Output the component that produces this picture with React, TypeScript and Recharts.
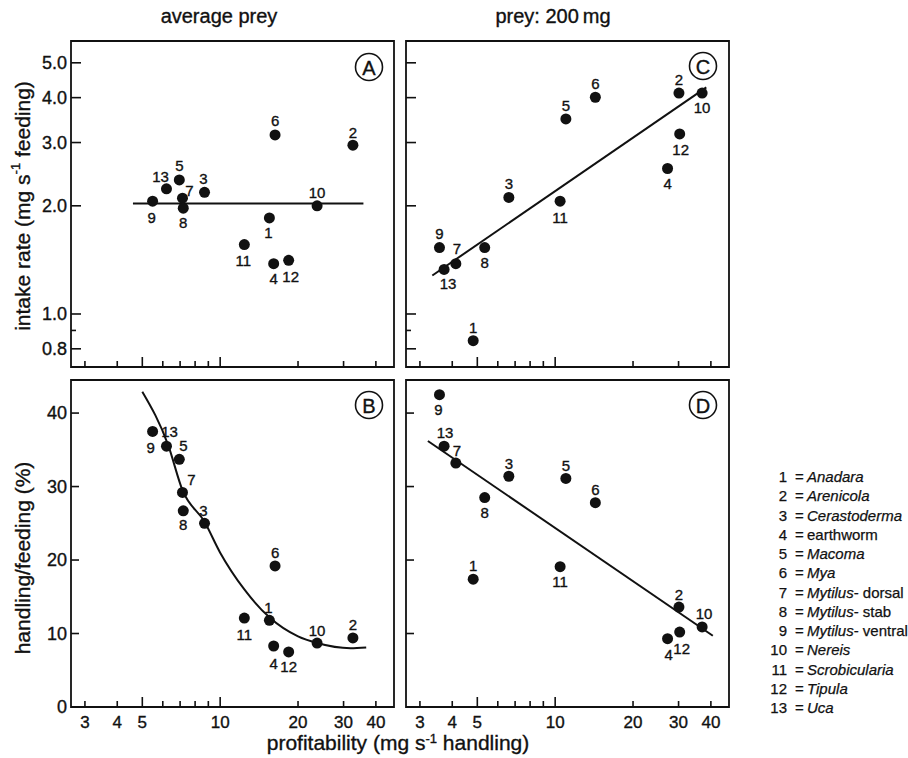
import React from "react";
import { ScatterChart, Scatter, XAxis, YAxis, ReferenceArea } from "recharts";

const INK = "#111";
const FONT = '"Liberation Sans", Arial, Helvetica, sans-serif';
const HEAVY = 0.35; // thin outline to thicken the printed text a bit

// prey numbers and legend names
const preyIds = [1, 2, 3, 4, 5, 6, 7, 8, 9, 10, 11, 12, 13];
const preyGenus = ["Anadara", "Arenicola", "Cerastoderma", "", "Macoma", "Mya", "Mytilus", "Mytilus", "Mytilus", "Nereis", "Scrobicularia", "Tipula", "Uca"];
const preySuffix = ["", "", "", "earthworm", "", "", "- dorsal", "- stab", "- ventral", "", "", "", ""];

// average prey (A, B)
const avgProfit = [15.5, 32.6, 8.7, 16.1, 6.95, 16.3, 7.15, 7.2, 5.48, 23.7, 12.4, 18.4, 6.2];
const avgIntake = [1.85, 2.95, 2.18, 1.38, 2.36, 3.15, 2.1, 1.97, 2.06, 2.0, 1.56, 1.41, 2.23];
const avgHandling = [11.8, 9.4, 25.0, 8.3, 33.7, 19.2, 29.2, 26.7, 37.5, 8.7, 12.1, 7.5, 35.5];

// prey of 200 mg (C, D)
const p200Profit = [4.82, 30.1, 6.62, 27.2, 11.0, 14.3, 4.13, 5.34, 3.57, 37.0, 10.45, 30.3, 3.72];
const p200Intake = [0.843, 4.12, 2.11, 2.54, 3.49, 4.01, 1.38, 1.53, 1.53, 4.12, 2.06, 3.17, 1.33];
const p200Handling = [17.4, 13.6, 31.4, 9.3, 31.1, 27.8, 33.2, 28.5, 42.5, 10.9, 19.1, 10.2, 35.5];

// fitted lines
const fitAX = [4.6, 35.8];
const fitAY = [2.03, 2.03];
const fitBX = [5, 6.3, 7.15, 8.7, 10, 12.4, 15.5, 20, 23.7, 31.9, 36.7];
const fitBY = [42.9, 35.6, 29.5, 25.2, 21.0, 16.0, 12.2, 9.6, 8.7, 8.0, 8.1];
const fitCX = [3.35, 38.4];
const fitCY = [1.28, 4.27];
const fitDX = [3.22, 40.7];
const fitDY = [36.2, 9.7];

// axes
const profitDomain = [2.65, 47];
const profitTicks = [3, 4, 5, 6, 7, 8, 9, 10, 20, 30, 40];
const profitTickLabels = ["3", "4", "5", "", "", "", "", "10", "20", "30", "40"];
const intakeDomain = [0.712, 5.75];
const intakeTicks = [0.8, 0.9, 1, 2, 3, 4, 5];
const intakeTickLabels = ["0.8", "", "1.0", "2.0", "3.0", "4.0", "5.0"];
const handlingDomain = [0, 44.5];
const handlingTicks = [0, 10, 20, 30, 40];
const handlingTickLabels = ["0", "10", "20", "30", "40"];

type Pt = { id: number; x: number; y: number };
type Off = Record<number, [number, number]>;

const toPoints = (xs: number[], ys: number[]): Pt[] =>
  xs.map((x, i) => ({ id: preyIds[i] ?? i, x, y: ys[i] }));

// where each number label sits relative to its dot
const labelsA: Off = { 1: [-1, 15], 2: [0, -13], 3: [-1, -14], 4: [0, 15], 5: [0, -14], 6: [0, -14], 7: [7, -8], 8: [0, 14], 9: [-1, 16], 10: [0, -13], 11: [-1, 16], 12: [2, 16], 13: [-6, -12] };
const labelsB: Off = { 1: [-1, -13], 2: [0, -13], 3: [-1, -13], 4: [0, 17], 5: [4, -14], 6: [0, -13], 7: [9, -13], 8: [0, 14], 9: [-2, 16], 10: [0, -13], 11: [0, 16], 12: [0, 15], 13: [3, -15] };
const labelsC: Off = { 1: [0, -13], 2: [0, -14], 3: [0, -14], 4: [0, 15], 5: [0, -13], 6: [0, -14], 7: [1, -15], 8: [0, 15], 9: [0, -14], 10: [0, 14], 11: [0, 16], 12: [1, 16], 13: [4, 14] };
const labelsD: Off = { 1: [0, -14], 2: [0, -13], 3: [0, -13], 4: [1, 16], 5: [0, -13], 6: [0, -13], 7: [1, -13], 8: [0, 15], 9: [-1, 15], 10: [2, -13], 11: [0, 15], 12: [2, 16], 13: [1, -14] };

const AXIS_X = 71; // y-axis position inside each chart
const CHART_W = 400;

interface PanelProps {
  left: number;
  top: number;
  height: number;
  marginTop: number;
  xAxisHeight: number;
  points: Pt[];
  fit: Pt[];
  curved?: boolean;
  offsets: Off;
  logY: boolean;
  showXLabels: boolean;
  showYLabels: boolean;
}

const Panel = ({ left, top, height, marginTop, xAxisHeight, points, fit, curved, offsets, logY, showXLabels, showYLabels }: PanelProps) => {
  const axisY = height - xAxisHeight;
  const yDomain = logY ? intakeDomain : handlingDomain;
  const yTicks = logY ? intakeTicks : handlingTicks;
  const yLabels = logY ? intakeTickLabels : handlingTickLabels;

  const xTick = (p: any) => {
    const v = p.payload.value;
    const label = profitTickLabels[profitTicks.indexOf(v)];
    const len = v === 5 || v === 10 ? 10 : 6;
    return (
      <g>
        <line x1={p.x} y1={axisY} x2={p.x} y2={axisY - len} stroke={INK} strokeWidth={1.6} />
        {showXLabels && label && (
          <text x={p.x} y={axisY + 21} textAnchor="middle" fontSize={17} fill={INK} stroke={INK} strokeWidth={HEAVY} fontFamily={FONT}>
            {label}
          </text>
        )}
      </g>
    );
  };

  const yTick = (p: any) => {
    const v = p.payload.value;
    const label = yLabels[yTicks.indexOf(v)];
    const len = logY ? (v === 0.9 ? 5 : 10) : 8;
    return (
      <g>
        <line x1={AXIS_X} y1={p.y} x2={AXIS_X + len} y2={p.y} stroke={INK} strokeWidth={1.6} />
        {showYLabels && label && (
          <text x={AXIS_X - 4} y={p.y} textAnchor="end" dominantBaseline="central" fontSize={18} fill={INK} stroke={INK} strokeWidth={HEAVY} fontFamily={FONT}>
            {label}
          </text>
        )}
      </g>
    );
  };

  const dot = (p: any) => {
    const [dx, dy] = offsets[p.payload.id] ?? [0, -14];
    return (
      <g>
        <circle cx={p.cx} cy={p.cy} r={5.5} fill={INK} />
        <text x={p.cx + dx} y={p.cy + dy} textAnchor="middle" dominantBaseline="central" fontSize={15} fill={INK} stroke={INK} strokeWidth={HEAVY} fontFamily={FONT}>
          {p.payload.id}
        </text>
      </g>
    );
  };

  return (
    <div style={{ position: "absolute", left, top }}>
      <ScatterChart width={CHART_W} height={height} margin={{ top: marginTop, right: 6, bottom: 0, left: 0 }}>
        <XAxis
          dataKey="x"
          type="number"
          scale="log"
          domain={profitDomain}
          allowDataOverflow
          ticks={profitTicks}
          interval={0}
          height={xAxisHeight}
          axisLine={false}
          tickLine={false}
          tickSize={0}
          tickMargin={0}
          tick={xTick}
        />
        <YAxis
          dataKey="y"
          type="number"
          scale={logY ? "log" : "linear"}
          domain={yDomain}
          allowDataOverflow
          ticks={yTicks}
          interval={0}
          width={AXIS_X}
          axisLine={false}
          tickLine={false}
          tickSize={0}
          tickMargin={0}
          tick={yTick}
        />
        <ReferenceArea
          x1={profitDomain[0]}
          x2={profitDomain[1]}
          y1={yDomain[0]}
          y2={yDomain[1]}
          fill="none"
          fillOpacity={0}
          stroke={INK}
          strokeWidth={1.8}
          ifOverflow="visible"
        />
        <Scatter
          data={fit}
          line={{ stroke: INK, strokeWidth: 2 }}
          lineJointType={curved ? "monotoneX" : "linear"}
          shape={() => <g />}
          isAnimationActive={false}
        />
        <Scatter data={points} shape={dot} isAnimationActive={false} />
      </ScatterChart>
    </div>
  );
};

const CircleLetter = ({ x, y, letter }: { x: number; y: number; letter: string }) => (
  <g>
    <circle cx={x} cy={y} r={13.5} fill="none" stroke={INK} strokeWidth={1.6} />
    <text x={x} y={y + 1} textAnchor="middle" dominantBaseline="central" fontSize={20} stroke={INK} strokeWidth={HEAVY}>
      {letter}
    </text>
  </g>
);

export default function App() {
  return (
    <div style={{ position: "absolute", left: 0, top: 0, width: 908, height: 758, background: "#fff", fontFamily: FONT }}>
      <Panel left={0} top={0} height={380} marginTop={41} xAxisHeight={13} points={toPoints(avgProfit, avgIntake)} fit={toPoints(fitAX, fitAY)} offsets={labelsA} logY showXLabels={false} showYLabels />
      <Panel left={335} top={0} height={380} marginTop={41} xAxisHeight={13} points={toPoints(p200Profit, p200Intake)} fit={toPoints(fitCX, fitCY)} offsets={labelsC} logY showXLabels={false} showYLabels={false} />
      <Panel left={0} top={367} height={370} marginTop={13} xAxisHeight={30} points={toPoints(avgProfit, avgHandling)} fit={toPoints(fitBX, fitBY)} curved offsets={labelsB} logY={false} showXLabels showYLabels />
      <Panel left={335} top={367} height={370} marginTop={13} xAxisHeight={30} points={toPoints(p200Profit, p200Handling)} fit={toPoints(fitDX, fitDY)} offsets={labelsD} logY={false} showXLabels showYLabels={false} />

      <svg width={908} height={758} style={{ position: "absolute", left: 0, top: 0, pointerEvents: "none" }} fontFamily={FONT} fill={INK} stroke={INK} strokeWidth={HEAVY}>
        <text x={219} y={23} textAnchor="middle" fontSize={20}>average prey</text>
        <text x={553} y={23} textAnchor="middle" fontSize={20}>prey: 200{"\u2009"}mg</text>

        <text transform="translate(22,206) rotate(-90)" textAnchor="middle" dominantBaseline="central" fontSize={21}>
          intake rate (mg s<tspan dy={-7} fontSize={13}>-1</tspan>
          <tspan dy={7}> feeding)</tspan>
        </text>
        <text transform="translate(22,558) rotate(-90)" textAnchor="middle" dominantBaseline="central" fontSize={21}>
          handling/feeding (%)
        </text>
        <text x={398} y={750} textAnchor="middle" fontSize={21}>
          profitability (mg s<tspan dy={-7} fontSize={13}>-1</tspan>
          <tspan dy={7}> handling)</tspan>
        </text>

        <CircleLetter x={369} y={67} letter="A" />
        <CircleLetter x={703} y={66} letter="C" />
        <CircleLetter x={369} y={405} letter="B" />
        <CircleLetter x={703} y={405} letter="D" />

        {preyIds.map((id, i) => {
          const y = 477 + i * 19.25 + 5;
          return (
            <g key={id} fontSize={15} strokeWidth={0.25}>
              <text x={787} y={y} textAnchor="end">{id}</text>
              <text x={795} y={y}>=</text>
              <text x={807} y={y}>
                {preyGenus[i] && <tspan fontStyle="italic">{preyGenus[i]}</tspan>}
                {preySuffix[i]}
              </text>
            </g>
          );
        })}
      </svg>
    </div>
  );
}
